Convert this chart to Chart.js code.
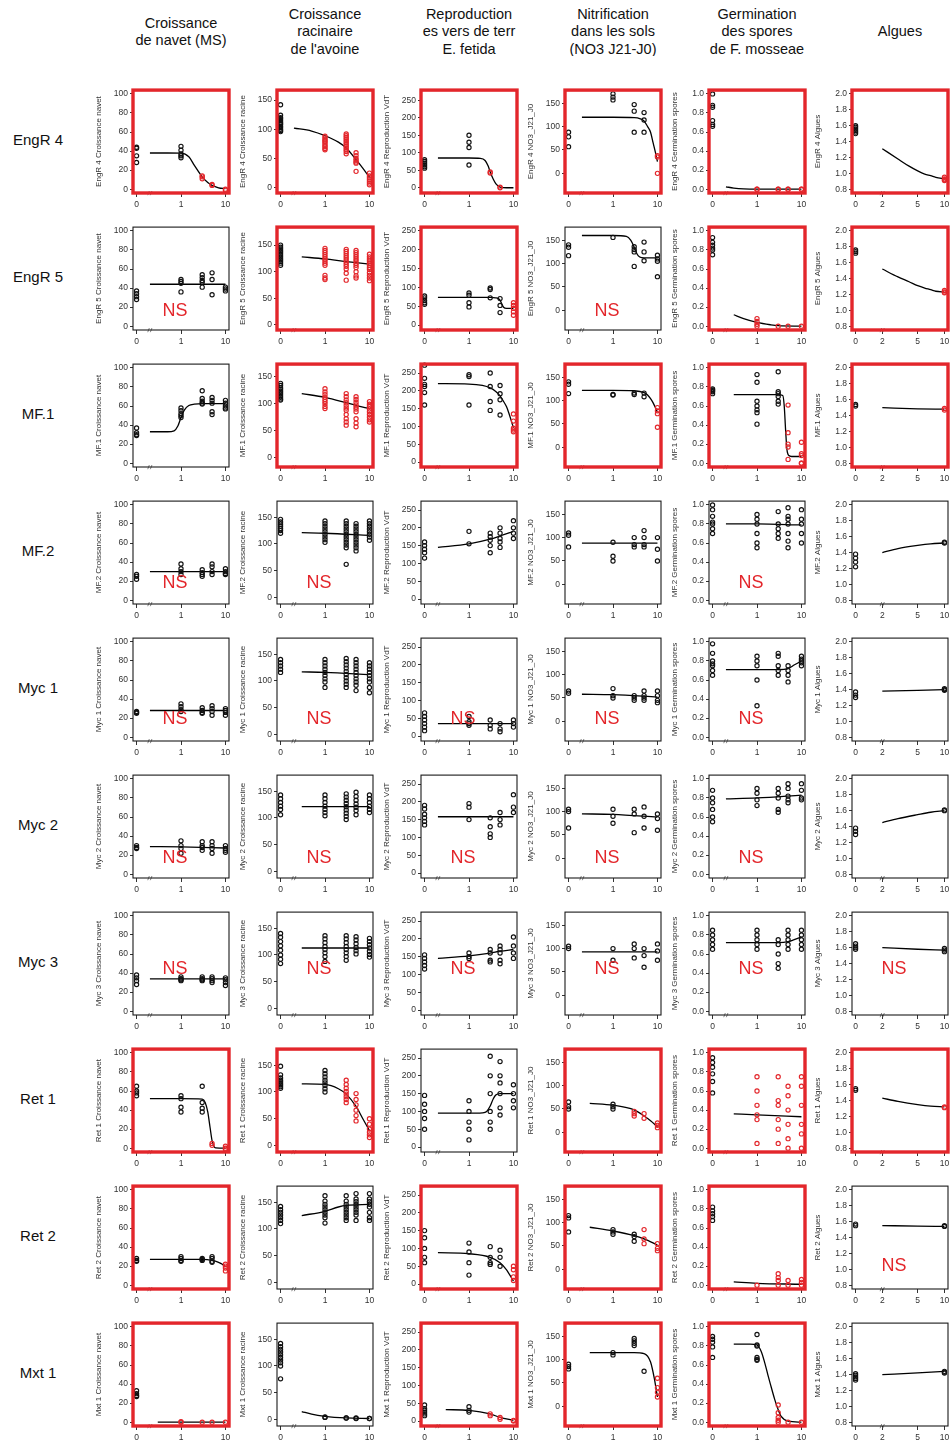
<!DOCTYPE html>
<html><head><meta charset="utf-8">
<script src="https://cdn.jsdelivr.net/npm/chart.js@4.4.1/dist/chart.umd.min.js"></script>
<style>
body{margin:0;background:#fff;width:950px;height:1448px;position:relative;overflow:hidden;font-family:"Liberation Sans",Arial,sans-serif;}
#hdrs{position:absolute;left:0;top:0;width:950px;height:56px;overflow:hidden;}
.hdr{position:absolute;width:160px;text-align:center;font-size:14.5px;line-height:17.5px;color:#111;}
.rowlab{position:absolute;width:76px;text-align:center;font-size:15px;line-height:18px;color:#111;}
.ns{position:absolute;width:40px;text-align:center;color:#e3262b;font-size:18px;line-height:20px;}
canvas{position:absolute;}
</style></head><body>
<div id="hdrs"></div>
<script>
// ---------------- DATA ----------------
const substances = ["EngR 4","EngR 5","MF.1","MF.2","Myc 1","Myc 2","Myc 3","Ret 1","Ret 2","Mxt 1"];
const endpointHeaders = [["Croissance","de navet (MS)"],["Croissance","racinaire","de l'avoine"],["Reproduction","es vers de terr","E. fetida"],["Nitrification","dans les sols","(NO3 J21-J0)"],["Germination","des spores","de F. mosseae"],["Algues"]];
const endpointAxis = ["Croissance navet","Croissance racine","Reproduction VdT","NO3_J21_J0","Germination spores","Algues"];
const doses = [0,1,3,5,10];
const algaeDoses = [0,10];
const doseTicks = ["0","1","10"];
const algaeTicks = ["0","2","5","10"];
const navetTicks = [0,20,40,60,80,100];
const racineTicks = [0,50,100,150];
const vdtTicks = [0,50,100,150,200,250];
const no3Ticks = [0,50,100,150];
const germTicks = [0,0.2,0.4,0.6,0.8,1.0];
const alguesTicks = [0.8,1.0,1.2,1.4,1.6,1.8,2.0];

// significance (red frame) and "NS" label, per substance x endpoint
const significant = [
 [1,1,1,1,1,1],[0,1,1,0,1,1],[0,1,1,1,1,1],[0,0,0,0,0,0],[0,0,0,0,0,0],
 [0,0,0,0,0,0],[0,0,0,0,0,0],[1,1,0,1,1,1],[1,0,1,1,1,0],[1,0,1,1,1,0]];
const nsLabel = [
 [0,0,0,0,0,0],[1,0,0,1,0,0],[0,0,0,0,0,0],[1,1,0,0,1,0],[1,1,1,1,1,0],
 [1,1,1,1,1,0],[1,1,1,1,1,1],[0,0,0,0,0,0],[0,0,0,0,0,1],[0,0,0,0,0,0]];

// --- Croissance navet ---
const navetPts = [
 [[44,43,35,28],[45,41,37,35,33],[14,13,11],[5,4],[0,-1]],
 [[37,34,31,28],[49,47,45,36],[54,51,48,46,41],[56,49,33],[41,39,37]],
 [[37,32,30,29],[58,55,52,50,48],[76,68,65,63,62],[69,66,63,54,51],[66,63,60,58,57]],
 [[27,25,22],[38,33,30,27],[32,29,27,25],[38,35,30,27],[33,30,28,27]],
 [[27,26,25],[35,32,29,27],[31,28,26,25],[33,30,27,23],[30,28,26,23]],
 [[30,28,27],[35,30,27,22],[34,30,28,25],[34,30,27,22],[30,27,25,23]],
 [[38,35,32,28],[36,34,33,32],[36,34,33,32],[36,34,32,30],[35,33,30,27]],
 [[65,60,58,55],[55,52,43,38],[65,48,42,38],[5,3],[2,0,-1]],
 [[28,26,25],[30,28,26,25],[28,27,26],[30,28,25,24],[22,20,18,15]],
 [[33,30,28,27],[0,0.5],[0],[0],[0]]];
const navetRed = [[0,0,1,1,1],[0,0,0,0,0],[0,0,0,0,0],[0,0,0,0,0],[0,0,0,0,0],[0,0,0,0,0],[0,0,0,0,0],[0,0,0,1,1],[0,0,0,0,1],[0,1,1,1,1]];
const navetFit = [
 [[0.2,38],[0.5,38],[1,37.8],[1.5,34],[2,25],[3,13],[4,7],[5,4],[7,1.5],[10,0.5]],
 [[0.2,44],[1,44],[10,44]],
 [[0.2,33],[0.5,33],[0.7,34],[0.85,39],[1,48],[1.2,56],[1.5,60.5],[2,62],[3,62.5],[10,62.5]],
 [[0.2,30],[1,30],[10,30]],
 [[0.2,28],[1,28],[10,28]],
 [[0.2,29],[1,28.7],[10,27.5]],
 [[0.2,34],[1,34],[10,34]],
 [[0.2,52],[1,52],[3,51.5],[3.5,48],[4,38],[4.5,22],[5,8],[5.5,2],[6,0.3],[10,0]],
 [[0.2,27],[3,27],[5,26],[7,24],[8.5,22],[10,19]],
 [[0.3,0],[1,0],[10,0]]];

// --- Croissance racine ---
const racinePts = [
 [[142,124,120,118,115,112,110,108,105,103,100,98,96],[88,85,82,80,78,75,72,70,67,65],[92,89,86,83,80,77,74,71,68,65,62,58],[60,55,50,47,44,42,28],[25,20,17,14,11,8,5]],
 [[150,146,143,140,137,134,131,128,125,122,119,116,112],[144,140,136,132,128,124,120,116,112,93,88,85],[142,138,134,130,126,122,118,114,110,105,97,84],[140,136,132,128,124,120,116,112,108,100,92,88],[133,128,124,120,116,112,108,104,98,93,88,83]],
 [[138,134,130,127,124,121,118,115,112,109,107],[128,122,117,112,108,104,100,95,91],[119,113,107,102,97,92,88,80,72,66,60],[113,108,103,98,94,90,85,72,64,57],[104,99,95,90,85,80,75,70,66]],
 [[146,141,137,133,129,125,120],[143,138,133,128,123,118,113,108,103],[143,138,133,128,123,118,113,108,103,98,93,62],[138,133,128,123,118,113,108,103,98,93,87],[143,138,133,128,123,118,113,107]],
 [[140,134,128,122,116],[140,134,128,122,116,110,104,98,88],[142,136,130,124,118,112,106,100,94,88],[140,134,128,122,116,110,104,98,92,82],[134,128,122,116,110,104,98,88,78]],
 [[143,136,129,122,116,106],[143,136,129,122,116,110,104],[145,139,133,127,121,115,109,103,97],[148,140,133,126,120,114,106],[143,136,129,122,116,110]],
 [[140,133,125,117,109,100,92,84],[136,130,123,116,110,104,97,88],[136,130,123,116,110,104,97,90],[134,128,121,114,108,102],[131,125,119,113,107,101,96]],
 [[148,132,126,122,119,116,113,110,107],[140,134,128,122,117,112,106,100],[122,114,107,101,96,91,86,80],[97,86,76,66,56,46],[50,40,31,25,20,15]],
 [[142,136,131,126,121,116,110],[162,152,146,141,136,131,126,121,111],[162,152,146,141,136,131,126,121,116],[166,156,151,146,141,136,131,126,116],[166,156,151,146,141,131,121,116]],
 [[142,136,131,126,121,116,111,106,100,76],[5,4],[3,3],[3,2],[2,2]]];
const racineRed = [[0,1,1,1,1],[0,1,1,1,1],[0,1,1,1,1],[0,0,0,0,0],[0,0,0,0,0],[0,0,0,0,0],[0,0,0,0,0],[0,0,1,1,1],[0,0,0,0,0],[0,0,0,0,0]];
const racineFit = [
 [[0.2,102],[0.5,97],[1,89],[2,78],[3,68],[5,48],[7,34],[10,18]],
 [[0.3,128],[1,124],[3,119],[5,117],[10,114]],
 [[0.3,119],[1,112],[3,102],[5,97],[10,91]],
 [[0.3,121],[1,120],[10,116]],
 [[0.3,117],[1,116],[10,112]],
 [[0.3,121],[1,121],[10,121]],
 [[0.3,113],[1,113],[10,113]],
 [[0.3,115],[1,114],[2,106],[3,96],[5,73],[7,51],[10,28]],
 [[0.3,125],[1,133],[2,141],[3,144],[10,146]],
 [[0.3,15],[0.5,10],[1,6],[3,3],[10,2]]];

// --- Reproduction VdT ---
const vdtPts = [
 [[80,75,70,65,60,56],[150,130,115,65],[45,42],[2,0],[]],
 [[77,72,65,59,55],[85,79,59,48],[98,94,72],[70,52,33],[59,52,44,35,26]],
 [[272,235,218,212,195,160],[245,240,160],[250,212,170,145],[215,192,175,132],[135,115,95,90,85]],
 [[160,150,140,130,115],[190,155],[185,175,165,150,130],[200,185,170,160,145],[220,200,185,170]],
 [[65,55,45,35,25,15],[55,40,35,30],[45,30,20],[35,20,12],[45,35,25]],
 [[190,180,165,155,145,135],[195,185,150],[155,130,110,100],[170,150,135],[220,185,170]],
 [[155,145,135,125,115],[160,150,145],[170,160,140,135],[180,170,160,140,130],[205,180,160,145]],
 [[145,120,100,80,50],[130,100,70,50,20],[255,200,150,100,70,50],[240,200,180,150,110,90],[175,150,130,110]],
 [[150,130,100,75,60],[115,90,60,25],[105,75,60,55],[95,75,50],[50,40,20,10]],
 [[45,35,30,25,20,15],[40,30,25],[20,15],[10,5],[2,0]]];
const vdtRed = [[0,0,1,1,1],[0,0,0,0,1],[0,0,0,0,1],[0,0,0,0,0],[0,0,0,0,0],[0,0,0,0,0],[0,0,0,0,0],[0,0,0,0,0],[0,0,0,0,1],[0,0,1,1,1]];
const vdtFit = [
 [[0.2,85],[1,85],[1.8,84],[2.3,78],[2.7,62],[3,45],[3.5,25],[4,12],[5,2],[7,0],[10,0]],
 [[0.2,73],[3,73],[4,72],[5,66],[5.5,55],[6,47],[7,44],[10,44]],
 [[0.2,220],[1,219],[2,215],[3,208],[4,198],[5,186],[6,170],[7,155],[8,135],[9,115],[10,96]],
 [[0.2,145],[1,155],[3,168],[5,177],[10,190]],
 [[0.2,35],[1,35],[10,35]],
 [[0.2,158],[1,158],[10,158]],
 [[0.2,145],[1,152],[3,160],[5,165],[10,170]],
 [[0.2,95],[1,95],[2,96],[2.5,100],[3,115],[3.5,135],[4,146],[5,150],[10,150]],
 [[0.2,88],[1,85],[3,75],[5,60],[7,40],[10,8]],
 [[0.3,32],[1,30],[3,20],[5,10],[10,2]]];

// --- NO3 J21-J0 ---
const no3Pts = [
 [[88,78,57],[170,163,157],[147,133,88],[130,114,88],[38,35,0]],
 [[140,135,117],[156],[136,130,125,94],[146,125,106],[118,110,105,72]],
 [[140,135,115],[113,112],[116,113],[116,108],[85,78,72,43]],
 [[110,105,80],[90,60,50],[100,85,80],[115,100,85,80],[100,75,50]],
 [[65,60],[70,55,50],[55,50,45],[65,55,50,45],[65,55,45,40]],
 [[105,100,65],[105,90,75],[105,95,55],[110,90,65],[95,85,60]],
 [[105,100],[100,75],[110,100,80],[100,85,60],[110,95,75]],
 [[65,55,50],[60,55,50],[45,40,35],[40,30],[20,15,10]],
 [[115,110,80],[85,80,75],[75,70,60],[85,65,55],[55,45,40]],
 [[90,85,80],[115,110],[145,140,135,130],[75],[60,40,30,20]]];
const no3Red = [[0,0,0,0,1],[0,0,0,0,0],[0,0,0,0,1],[0,0,0,0,0],[0,0,0,0,0],[0,0,0,0,0],[0,0,0,0,0],[0,0,1,1,1],[0,0,0,1,1],[0,0,0,0,1]];
const no3Fit = [
 [[0.2,120],[1,120],[3,119],[4,117],[5,112],[6,100],[7,88],[8,65],[9,45],[10,25]],
 [[0.2,160],[1,160],[2,158],[2.5,150],[3,135],[3.5,120],[4,114],[5,112],[10,112]],
 [[0.2,122],[1,122],[3,121],[5,117],[6,112],[7,104],[8,95],[9,85],[10,75]],
 [[0.2,88],[1,88],[10,88]],
 [[0.2,58],[1,57],[10,52]],
 [[0.2,95],[1,94],[10,88]],
 [[0.2,93],[1,93],[10,93]],
 [[0.3,62],[1,58],[3,48],[5,35],[7,25],[10,12]],
 [[0.3,90],[1,82],[3,72],[5,65],[10,52]],
 [[0.3,115],[1,115],[3,115],[5,113],[7,95],[8.5,60],[10,20]]];

// --- Germination spores ---
const germPts = [
 [[1.0,0.88,0.86,0.72,0.68,0.66],[0,0],[0,0],[0,0],[0,0]],
 [[0.93,0.88,0.85,0.82,0.8,0.75],[0.08,0.05,0.02,0],[0],[0],[0]],
 [[0.78,0.77,0.76,0.75,0.73],[0.93,0.85,0.65,0.6,0.56,0.53,0.41],[0.96,0.75,0.73,0.7,0.65,0.62],[0.61,0.32,0.2,0.17,0.04],[0.22,0.1,0.08,0,0]],
 [[1.0,0.95,0.88,0.82,0.8,0.75,0.7],[0.9,0.85,0.8,0.7,0.6,0.55],[0.93,0.8,0.75,0.7,0.65],[0.97,0.88,0.85,0.8,0.7,0.62,0.55],[0.95,0.85,0.8,0.7,0.6]],
 [[0.98,0.88,0.8,0.77,0.75,0.7,0.65],[0.85,0.8,0.75,0.6,0.33],[0.88,0.85,0.75,0.7,0.65],[0.75,0.7,0.65,0.58],[0.85,0.82,0.8,0.78,0.75]],
 [[0.88,0.8,0.75,0.68,0.6,0.55],[0.9,0.85,0.78,0.72],[0.9,0.85,0.8,0.68,0.65],[0.95,0.9,0.82,0.78,0.75],[0.95,0.88,0.8,0.78]],
 [[0.85,0.8,0.75,0.7,0.65],[0.85,0.8,0.75,0.7,0.65],[0.75,0.7,0.6,0.5,0.45],[0.85,0.8,0.75,0.7,0.65],[0.85,0.8,0.75,0.7,0.65]],
 [[0.95,0.9,0.85,0.78,0.7,0.58],[0.75,0.6,0.45,0.35,0.3,0.05],[0.75,0.5,0.45,0.3,0.2,0.05],[0.65,0.55,0.4,0.25,0.1,0],[0.75,0.65,0.45,0.25,0.15,0]],
 [[0.82,0.78,0.75,0.72,0.68],[0],[0.12,0.08,0.05,0],[0.05,0],[0.06,0.03,0]],
 [[0.9,0.87,0.84,0.79,0.68],[0.92,0.81,0.8,0.68,0.66,0.65],[0.18,0.1,0.05,0.02,0],[0],[0]]];
const germRed = [[0,1,1,1,1],[0,1,1,1,1],[0,0,0,1,1],[0,0,0,0,0],[0,0,0,0,0],[0,0,0,0,0],[0,0,0,0,0],[0,1,1,1,1],[0,1,1,1,1],[0,0,1,1,1]];
const germFit = [
 [[0.2,0.025],[0.3,0.012],[0.5,0.003],[1,0],[10,0]],
 [[0.3,0.12],[0.5,0.08],[1,0.04],[2,0.015],[3,0.005],[10,0]],
 [[0.3,0.72],[1,0.72],[3,0.72],[3.8,0.71],[4.1,0.6],[4.4,0.35],[4.7,0.15],[5.2,0.08],[6,0.07],[10,0.07]],
 [[0.2,0.8],[1,0.8],[10,0.79]],
 [[0.2,0.71],[3,0.71],[5,0.72],[7,0.76],[10,0.8]],
 [[0.2,0.79],[1,0.8],[10,0.83]],
 [[0.2,0.72],[3,0.72],[5,0.73],[10,0.78]],
 [[0.3,0.36],[1,0.35],[10,0.33]],
 [[0.3,0.035],[1,0.02],[10,0.01]],
 [[0.3,0.82],[0.7,0.82],[1,0.81],[1.25,0.74],[1.5,0.62],[1.75,0.5],[2,0.4],[2.5,0.24],[3,0.13],[3.5,0.06],[5,0.01],[10,0]]];

// --- Algues ---
const alguesPts = [
 [[1.6,1.58,1.56,1.54,1.52,1.5],[0.95,0.93,0.92,0.91]],
 [[1.76,1.74,1.72],[1.25,1.23,1.22]],
 [[1.54,1.52],[1.49,1.47]],
 [[1.38,1.33,1.28,1.22],[1.53,1.52]],
 [[1.37,1.33,1.3],[1.41,1.4,1.39]],
 [[1.38,1.34,1.3],[1.61,1.6]],
 [[1.65,1.62,1.6,1.58],[1.59,1.57,1.55]],
 [[1.55,1.53],[1.32,1.31]],
 [[1.57,1.55],[1.55,1.54]],
 [[1.41,1.39,1.37,1.35,1.33],[1.44,1.43,1.42]]];
const alguesRed = [[0,1],[0,1],[0,1],[0,0],[0,0],[0,0],[0,0],[0,1],[0,0],[0,0]];
const alguesFit = [
 [[2,1.31],[3,1.18],[4,1.09],[5,1.03],[6,0.99],[7,0.97],[8,0.95],[10,0.93]],
 [[2,1.52],[3,1.42],[4,1.36],[5,1.31],[6,1.28],[7,1.26],[8,1.24],[10,1.23]],
 [[2,1.5],[5,1.485],[10,1.48]],
 [[2,1.4],[3,1.45],[5,1.49],[7,1.51],[10,1.52]],
 [[2,1.38],[5,1.39],[10,1.4]],
 [[2,1.45],[3,1.5],[5,1.55],[7,1.58],[10,1.6]],
 [[2,1.6],[5,1.58],[10,1.57]],
 [[2,1.43],[3,1.39],[5,1.35],[7,1.33],[10,1.32]],
 [[2,1.55],[5,1.545],[10,1.54]],
 [[2,1.4],[5,1.42],[10,1.44]]];

// ---------------- LAYOUT / STYLE ----------------
const RED = '#e3262b';
const FONT = '"Liberation Sans", Arial, sans-serif';
const BOX_LEFT = [133,277,421,565,709,852];
const BOX_W = 96, BOX_H = 104, ROW_TOP = 89, ROW_PITCH = 137;
const PAD_L = 48, PAD_T = 6, PAD_R = 5, PAD_B = 24;
// visible y window of each panel (axis extent, not data)
const navetLim = [-4,104];
const racineLim = [[-9,167],[-10,184],[-18,174],[-12,180],[-12,180],[-12,180],[-12,180],[-12,180],[-12,180],[-12,180]];
const vdtLim = [[-15,279],[-13,259],[-14,275],[-14,275],[-14,275],[-14,275],[-14,275],[-14,275],[-14,275],[-14,275]];
const no3Lim = [-42,178];
const germLim = [-0.04,1.04];
const alguesLim = [0.752,2.048];
function yLimit(r,c){
  return [navetLim, racineLim[r], vdtLim[r], no3Lim, germLim, alguesLim][c];
}
const nsOffsetY = [0,84,0,82,81,83,57,0,80,0];

const columns = [
 {pts:navetPts, red:navetRed, fit:navetFit, ticks:navetTicks, dec:0},
 {pts:racinePts, red:racineRed, fit:racineFit, ticks:racineTicks, dec:0},
 {pts:vdtPts, red:vdtRed, fit:vdtFit, ticks:vdtTicks, dec:0},
 {pts:no3Pts, red:no3Red, fit:no3Fit, ticks:no3Ticks, dec:0},
 {pts:germPts, red:germRed, fit:germFit, ticks:germTicks, dec:1},
 {pts:alguesPts, red:alguesRed, fit:alguesFit, ticks:alguesTicks, dec:1, algae:true}];

// headers
const hdrs = document.getElementById('hdrs');
endpointHeaders.forEach((lines,c)=>{
  const d = document.createElement('div');
  d.className='hdr';
  d.style.left = (BOX_LEFT[c]+BOX_W/2-80)+'px';
  d.style.top = (32 - lines.length*17.5/2)+'px';
  d.innerHTML = lines.join('<br>');
  hdrs.appendChild(d);
});
// row labels
substances.forEach((s,r)=>{
  const d = document.createElement('div');
  d.className='rowlab';
  d.style.left='0px';
  d.style.top=(ROW_TOP+ROW_PITCH*r+BOX_H/2-10)+'px';
  d.textContent=s;
  document.body.appendChild(d);
});

const framePlugin = {
  id:'frame',
  afterDatasetsDraw(chart, args, opts){
    const {ctx, chartArea:a, scales} = chart;
    ctx.save();
    const bx = scales.x.getPixelForValue(opts.breakAt);
    ctx.strokeStyle = '#666'; ctx.lineWidth = 0.8;
    ctx.beginPath();
    ctx.moveTo(bx-2.2, a.bottom+2.2); ctx.lineTo(bx-0.6, a.bottom-2);
    ctx.moveTo(bx+0.4, a.bottom+2.2); ctx.lineTo(bx+2, a.bottom-2);
    ctx.stroke();
    ctx.strokeStyle = opts.sig ? RED : '#1a1a1a';
    ctx.lineWidth = opts.sig ? 3.4 : 1.1;
    ctx.strokeRect(a.left, a.top, a.right-a.left, a.bottom-a.top);
    ctx.restore();
  }
};

function makePanel(r,c){
  const col = columns[c];
  const boxL = BOX_LEFT[c], boxT = ROW_TOP + ROW_PITCH*r;
  const cv = document.createElement('canvas');
  const W = PAD_L+BOX_W+PAD_R, H = PAD_T+BOX_H+PAD_B;
  cv.width=W; cv.height=H;
  cv.style.left=(boxL-PAD_L)+'px'; cv.style.top=(boxT-PAD_T)+'px';
  cv.style.width=W+'px'; cv.style.height=H+'px';
  document.body.appendChild(cv);

  const ds = col.algae ? algaeDoses : doses;
  const zeroPos = col.algae ? 1 : 0.1;
  const black=[], red=[];
  col.pts[r].forEach((vals,i)=>{
    const x = ds[i]===0 ? zeroPos : ds[i];
    vals.forEach(v=>{ (col.red[r][i] ? red : black).push({x:x,y:v}); });
  });
  const fit = col.fit[r].map(p=>({x:p[0],y:p[1]}));
  const lim = yLimit(r,c);
  const xMin = col.algae ? Math.pow(10,-0.04) : Math.pow(10,-1.08);
  const xMax = col.algae ? Math.pow(10,1.04) : Math.pow(10,1.08);
  const xTickVals = col.algae ? [1,2,5,10] : [0.1,1,10];
  const xTickLabels = col.algae ? algaeTicks : doseTicks;
  const ptStyle = {showLine:false, pointRadius:2.1, pointBorderWidth:1.15, pointBackgroundColor:'rgba(0,0,0,0)', pointHoverRadius:2.1, clip:false};

  new Chart(cv, {
    type:'scatter',
    data:{datasets:[
      Object.assign({data:black, pointBorderColor:'#111', borderColor:'#111'}, ptStyle),
      Object.assign({data:red, pointBorderColor:RED, borderColor:RED}, ptStyle),
      {type:'line', data:fit, showLine:true, borderColor:'#000', borderWidth:1.3, pointRadius:0, cubicInterpolationMode:'monotone', fill:false}
    ]},
    options:{
      responsive:false, animation:false, devicePixelRatio:1, events:[],
      layout:{padding:{top:PAD_T,right:PAD_R,left:0,bottom:0}},
      plugins:{legend:{display:false}, tooltip:{enabled:false}, frame:{sig:significant[r][c]===1, breakAt: col.algae ? 2 : 0.2}},
      scales:{
        x:{type:'logarithmic', min:xMin, max:xMax,
           afterBuildTicks:s=>{ s.ticks = xTickVals.map(v=>({value:v})); },
           afterFit:s=>{ s.height = PAD_B; },
           ticks:{autoSkip:false, maxRotation:0, minRotation:0, padding:3, color:'#333', font:{family:FONT,size:8.5},
                  callback:(v,i)=>xTickLabels[i]},
           grid:{display:true, drawOnChartArea:false, drawTicks:true, tickLength:4, color:'#333', lineWidth:1},
           border:{display:false}},
        y:{type:'linear', min:lim[0], max:lim[1],
           afterBuildTicks:s=>{ s.ticks = col.ticks.map(v=>({value:v})); },
           afterFit:s=>{ s.width = PAD_L; },
           ticks:{autoSkip:false, padding:2, color:'#333', font:{family:FONT,size:8.5},
                  callback:(v)=>Number(v).toFixed(col.dec)},
           grid:{display:true, drawOnChartArea:false, drawTicks:true, tickLength:3, color:'#333', lineWidth:1},
           border:{display:false},
           title:{display:true, text:substances[r]+' '+endpointAxis[c], color:'#333', font:{family:FONT,size:8}, padding:{top:9,bottom:0}}}
      }
    },
    plugins:[framePlugin]
  });

  if(nsLabel[r][c]){
    const d=document.createElement('div');
    d.className='ns';
    d.textContent='NS';
    d.style.left=(boxL+42-20)+'px';
    d.style.top=(boxT+nsOffsetY[r]-10)+'px';
    document.body.appendChild(d);
  }
}

for(let r=0;r<substances.length;r++) for(let c=0;c<6;c++) makePanel(r,c);
</script>
</body></html>
